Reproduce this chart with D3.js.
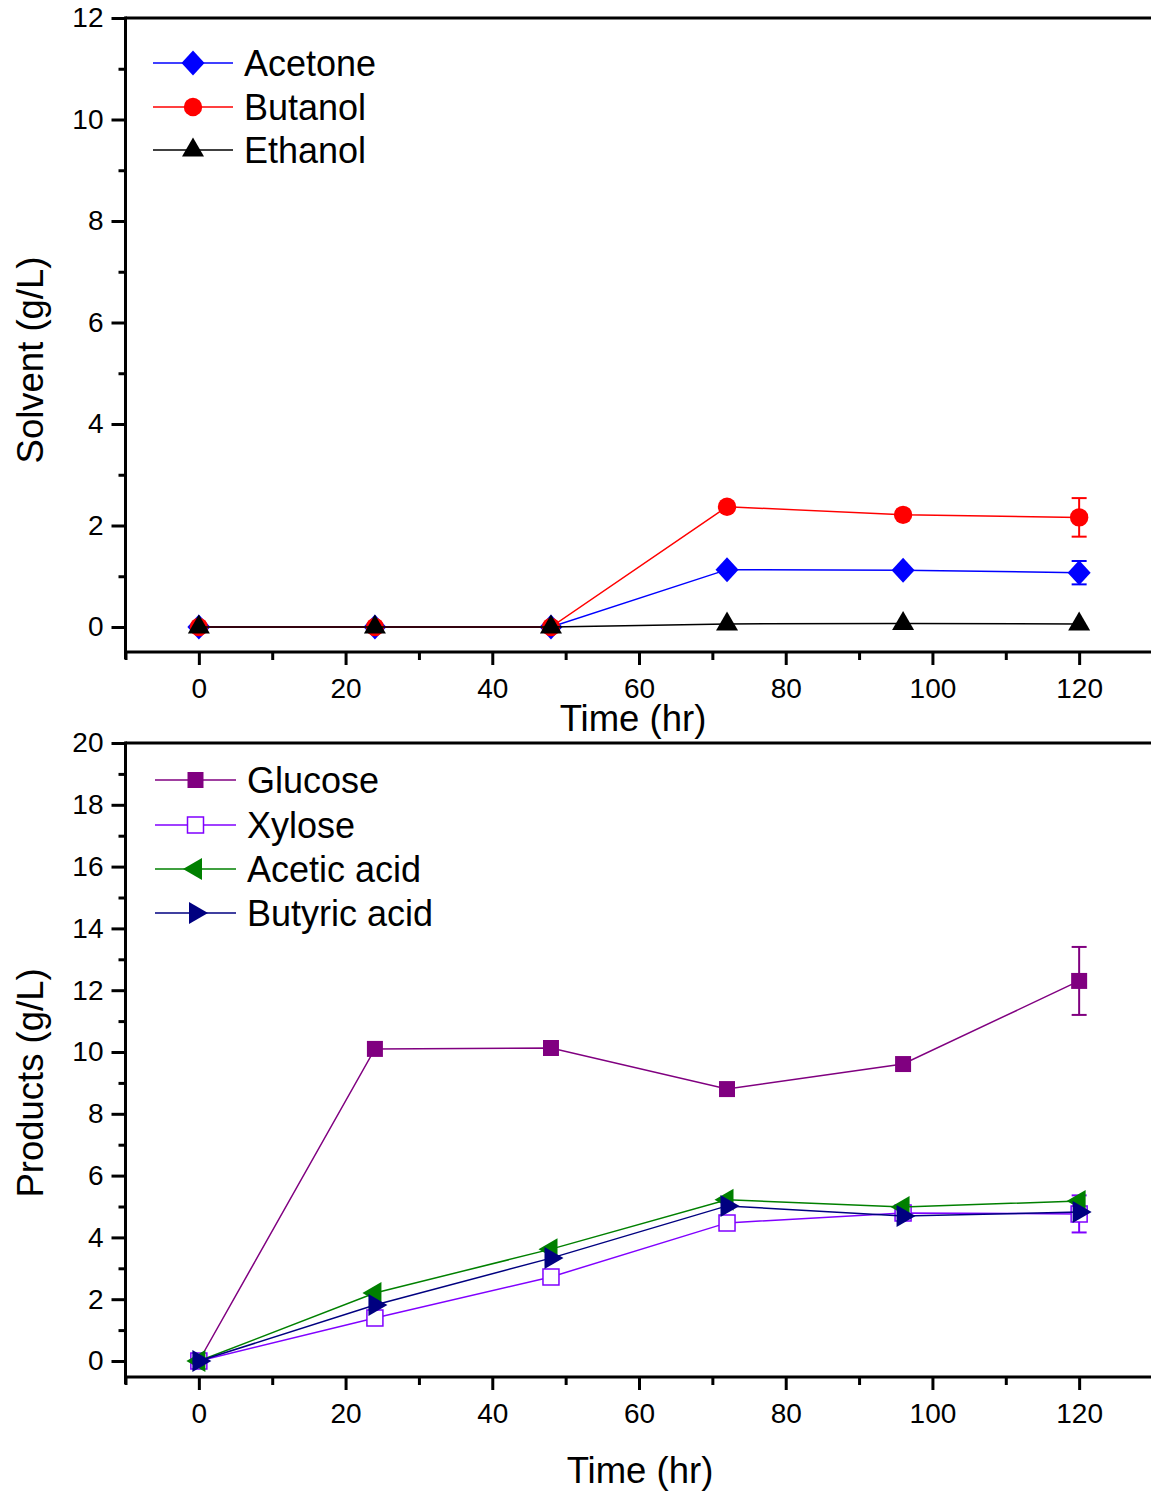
<!DOCTYPE html>
<html>
<head>
<meta charset="utf-8">
<script src="https://cdn.jsdelivr.net/npm/d3@7"></script>
<style>
  html, body { margin: 0; padding: 0; background: #fff; }
  svg { display: block; font-family: "Liberation Sans", Arial, Helvetica, sans-serif; }
</style>
</head>
<body>
<svg id="chart" width="1151" height="1494"></svg>
<script>
// ---------------- DATA ----------------
const time = [0, 24, 48, 72, 96, 120];

// Top panel: solvents (g/L)
const acetone = [0, 0, 0, 1.13, 1.12, 1.07];
const butanol = [0, 0, 0, 2.37, 2.21, 2.16];
const ethanol = [0, 0, 0, 0.06, 0.07, 0.06];
const acetoneErr = [0, 0, 0, 0, 0, 0.23];
const butanolErr = [0, 0, 0, 0, 0, 0.38];

// Bottom panel: products (g/L)
const glucose = [0, 10.1, 10.13, 8.8, 9.61, 12.3];
const xylose = [0, 1.39, 2.72, 4.47, 4.79, 4.76];
const aceticAcid = [0, 2.2, 3.62, 5.22, 4.98, 5.18];
const butyricAcid = [0, 1.81, 3.33, 5.02, 4.69, 4.82];
const glucoseErr = [0, 0, 0, 0, 0, 1.1];
const xyloseErr = [0, 0, 0, 0, 0, 0.6];

const solventNames = ["Acetone", "Butanol", "Ethanol"];
const productNames = ["Glucose", "Xylose", "Acetic acid", "Butyric acid"];

const xTicks = [0, 20, 40, 60, 80, 100, 120];
const topYTicks = [0, 2, 4, 6, 8, 10, 12];
const botYTicks = [0, 2, 4, 6, 8, 10, 12, 14, 16, 18, 20];

// ---------------- DRAW ----------------
const svg = d3.select("#chart");
const FONT_TICK = 28, FONT_TITLE = 36.5, FONT_LEG = 36;
const FAM = "'Liberation Sans', Arial, Helvetica, sans-serif";

function markerPath(type) {
  switch (type) {
    case "diamond": return "M0,-12.5L11.5,0L0,12.5L-11.5,0Z";
    case "circle": return d3.symbol(d3.symbolCircle, Math.PI * 9.2 * 9.2)();
    case "triUp": return "M0,-12.5L11,6.5L-11,6.5Z";
    case "square": return "M-8,-8H8V8H-8Z";
    case "triLeft": return "M-12.5,0L6.5,-11L6.5,11Z";
    case "triRight": return "M12.5,0L-6.5,-11L-6.5,11Z";
  }
}

function panel(cfg) {
  const x = d3.scaleLinear().domain([-10, 130]).range([125.5, 1152.5]);
  const y = d3.scaleLinear().domain([0, cfg.yMax]).range([cfg.y0, cfg.yTop]);
  const g = svg.append("g");

  // top frame line
  g.append("line").attr("x1", 125.5).attr("x2", 1151).attr("y1", cfg.yTop).attr("y2", cfg.yTop)
    .attr("stroke", "#000").attr("stroke-width", 3);

  // Y axis
  const yMinor = d3.range(0, cfg.yMax + 0.001, 1).filter(v => v % 2 !== 0);
  g.append("line").attr("x1", 125.5).attr("x2", 125.5).attr("y1", cfg.yTop - 1.5).attr("y2", cfg.xAxisY + 7)
    .attr("stroke", "#000").attr("stroke-width", 3);
  const yAx = g.append("g").attr("transform", "translate(125.5,0)")
    .call(d3.axisLeft(y).tickValues(cfg.yTicks).tickSize(14).tickPadding(8).tickFormat(d3.format("d")));
  yAx.select(".domain").remove();
  yAx.selectAll(".tick line").attr("stroke-width", 3);
  yAx.selectAll(".tick text").attr("font-size", FONT_TICK).attr("font-family", FAM).attr("fill", "#000");
  const yAxMin = g.append("g").attr("transform", "translate(125.5,0)")
    .call(d3.axisLeft(y).tickValues(yMinor).tickSize(7).tickFormat(""));
  yAxMin.select(".domain").remove();
  yAxMin.selectAll(".tick line").attr("stroke-width", 3);

  // X axis
  g.append("line").attr("x1", 124).attr("x2", 1151).attr("y1", cfg.xAxisY).attr("y2", cfg.xAxisY)
    .attr("stroke", "#000").attr("stroke-width", 3);
  const xAx = g.append("g").attr("transform", `translate(0,${cfg.xAxisY})`)
    .call(d3.axisBottom(x).tickValues(xTicks).tickSize(13).tickPadding(13).tickFormat(d3.format("d")));
  xAx.select(".domain").remove();
  xAx.selectAll(".tick line").attr("stroke-width", 3);
  xAx.selectAll(".tick text").attr("font-size", FONT_TICK).attr("font-family", FAM).attr("fill", "#000");
  const xAxMin = g.append("g").attr("transform", `translate(0,${cfg.xAxisY})`)
    .call(d3.axisBottom(x).tickValues([-10, 10, 30, 50, 70, 90, 110, 130]).tickSize(8).tickFormat(""));
  xAxMin.select(".domain").remove();
  xAxMin.selectAll(".tick line").attr("stroke-width", 3);

  // Axis titles
  g.append("text").attr("x", cfg.xTitleX).attr("y", cfg.xTitleY).attr("text-anchor", "middle")
    .attr("font-size", FONT_TITLE).attr("font-family", FAM).text("Time (hr)");
  g.append("text").attr("transform", `translate(43,${cfg.yTitleCY}) rotate(-90)`).attr("text-anchor", "middle")
    .attr("font-size", FONT_TITLE).attr("font-family", FAM).text(cfg.yTitle);

  // Series
  cfg.series.forEach(s => {
    const pts = time.map((t, i) => ({ t, v: s.values[i], e: s.err ? s.err[i] : 0 }));
    const sg = g.append("g");
    sg.append("path").datum(pts)
      .attr("d", d3.line().x(d => x(d.t)).y(d => y(d.v)))
      .attr("fill", "none").attr("stroke", s.color).attr("stroke-width", 1.5);
    pts.filter(d => d.e > 0).forEach(d => {
      const eb = sg.append("g").attr("stroke", s.color).attr("stroke-width", 2);
      eb.append("line").attr("x1", x(d.t)).attr("x2", x(d.t)).attr("y1", y(d.v + d.e)).attr("y2", y(d.v - d.e));
      eb.append("line").attr("x1", x(d.t) - 7.5).attr("x2", x(d.t) + 7.5).attr("y1", y(d.v + d.e)).attr("y2", y(d.v + d.e));
      eb.append("line").attr("x1", x(d.t) - 7.5).attr("x2", x(d.t) + 7.5).attr("y1", y(d.v - d.e)).attr("y2", y(d.v - d.e));
    });
    sg.selectAll("path.m").data(pts).join("path").attr("class", "m")
      .attr("transform", d => `translate(${x(d.t)},${y(d.v)})`)
      .attr("d", markerPath(s.marker))
      .attr("fill", s.open ? "#fff" : s.color)
      .attr("stroke", s.color).attr("stroke-width", s.open ? 1.5 : 0);
  });

  // Legend
  cfg.series.forEach((s, i) => {
    const ly = cfg.legY[i];
    const lg = g.append("g");
    lg.append("line").attr("x1", cfg.legX0).attr("x2", cfg.legX1).attr("y1", ly).attr("y2", ly)
      .attr("stroke", s.color).attr("stroke-width", 1.5);
    lg.append("path").attr("transform", `translate(${(cfg.legX0 + cfg.legX1) / 2},${ly})`)
      .attr("d", markerPath(s.marker))
      .attr("fill", s.open ? "#fff" : s.color)
      .attr("stroke", s.color).attr("stroke-width", s.open ? 1.5 : 0);
    lg.append("text").attr("x", cfg.legX1 + 11).attr("y", ly + 13).attr("font-size", FONT_LEG)
      .attr("font-family", FAM).text(s.name);
  });
}

panel({
  yMax: 12, y0: 627, yTop: 18, xAxisY: 652, yTicks: topYTicks,
  xTitleX: 633, xTitleY: 731, yTitle: "Solvent (g/L)", yTitleCY: 360,
  legX0: 153, legX1: 233, legY: [63, 107, 150],
  series: [
    { name: solventNames[0], values: acetone, err: acetoneErr, color: "#0000FF", marker: "diamond" },
    { name: solventNames[1], values: butanol, err: butanolErr, color: "#FF0000", marker: "circle" },
    { name: solventNames[2], values: ethanol, color: "#000000", marker: "triUp" }
  ]
});

panel({
  yMax: 20, y0: 1361, yTop: 743, xAxisY: 1377, yTicks: botYTicks,
  xTitleX: 640, xTitleY: 1483, yTitle: "Products (g/L)", yTitleCY: 1083,
  legX0: 155, legX1: 236, legY: [780, 825, 869, 913],
  series: [
    { name: productNames[0], values: glucose, err: glucoseErr, color: "#800080", marker: "square" },
    { name: productNames[1], values: xylose, err: xyloseErr, color: "#8000FF", marker: "square", open: true },
    { name: productNames[2], values: aceticAcid, color: "#008000", marker: "triLeft" },
    { name: productNames[3], values: butyricAcid, color: "#000080", marker: "triRight" }
  ]
});
</script>
</body>
</html>
